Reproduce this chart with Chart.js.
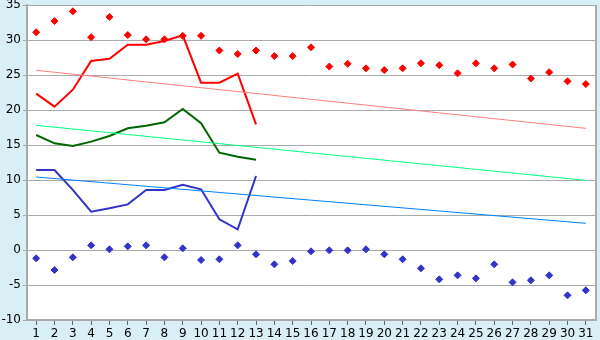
<!DOCTYPE html>
<html><head><meta charset="utf-8">
<script src="https://cdn.jsdelivr.net/npm/chart.js@4/dist/chart.umd.min.js"></script>
<style>html,body{margin:0;padding:0;background:#d9eff6;}#wrap{width:600px;height:340px;}</style>
</head><body><div id="wrap"><canvas id="c" width="600" height="340"></canvas></div>
<script>
const days = ["1","2","3","4","5","6","7","8","9","10","11","12","13","14","15","16","17","18","19","20","21","22","23","24","25","26","27","28","29","30","31"];
const highPoints = [31.1,32.7,34.1,30.4,33.3,30.7,30.1,30.1,30.6,30.6,28.5,28.0,28.5,27.7,27.7,28.95,26.2,26.6,25.95,25.7,25.95,26.67,26.4,25.24,26.67,25.95,26.5,24.5,25.4,24.1,23.7];
const lowPoints = [-1.19,-2.86,-1.05,0.67,0.1,0.52,0.67,-1.05,0.24,-1.43,-1.33,0.67,-0.62,-2.05,-1.57,-0.19,-0.05,-0.05,0.1,-0.62,-1.33,-2.62,-4.19,-3.62,-4.05,-2.05,-4.62,-4.33,-3.62,-6.48,-5.76];
const maxLine = [22.33,20.48,22.9,27.0,27.33,29.33,29.33,29.86,30.67,23.9,23.9,25.19,17.95];
const meanLine = [16.43,15.24,14.86,15.48,16.29,17.38,17.76,18.24,20.14,18.1,13.9,13.33,12.9];
const minLine = [11.43,11.43,8.6,5.48,5.95,6.52,8.57,8.57,9.33,8.67,4.38,2.95,10.57];
const maxTrend = [25.67,17.38];
const meanTrend = [17.81,9.95];
const minTrend = [10.43,3.81];
const yTicks = [-10,-5,0,5,10,15,20,25,30,35];

function trend(ends){ const a = days.map(()=>null); a[0]=ends[0]; a[a.length-1]=ends[1]; return a; }

const bgPlugin = {
  id:'bg',
  beforeDraw(chart){
    const {ctx, chartArea:a} = chart;
    ctx.save();
    ctx.fillStyle='#d9eff6'; ctx.fillRect(0,0,chart.width,chart.height);
    ctx.fillStyle='#ffffff'; ctx.fillRect(a.left,a.top,a.right-a.left,a.bottom-a.top);
    ctx.restore();
  },
  afterDraw(chart){
    const {ctx, chartArea:a} = chart;
    ctx.save();
    ctx.strokeStyle='#aaaaaa'; ctx.lineWidth=2;
    ctx.beginPath(); ctx.moveTo(a.right+1,a.top); ctx.lineTo(a.right+1,a.bottom+1); ctx.stroke();
    ctx.restore();
  }
};

const lineDs = (data,color,w)=>({type:'line',data,borderColor:color,backgroundColor:color,borderWidth:w,pointRadius:0,tension:0,fill:false,spanGaps:true});
const ptDs = (data,color)=>({type:'line',data,showLine:false,borderColor:color,backgroundColor:color,pointStyle:'rectRot',pointRadius:3.5,pointBorderWidth:1});

new Chart(document.getElementById('c'),{
  type:'line',
  data:{labels:days,datasets:[
    lineDs(trend(maxTrend),'#ff8080',1),
    lineDs(trend(meanTrend),'#00ff80',1),
    lineDs(trend(minTrend),'#0080ff',1),
    lineDs(maxLine,'#ff0000',2),
    lineDs(meanLine,'#006600',2),
    lineDs(minLine,'#3333cc',2),
    ptDs(highPoints,'#ff0000'),
    ptDs(lowPoints,'#3333cc')
  ]},
  options:{
    responsive:false, animation:false, devicePixelRatio:1,
    layout:{padding:{top:5,right:5,left:0,bottom:0}},
    plugins:{legend:{display:false},tooltip:{enabled:false}},
    scales:{
      x:{offset:true,
        grid:{display:true,drawOnChartArea:false,drawTicks:true,tickLength:5,color:'#666666'},
        border:{display:true,color:'#aaaaaa',width:2},
        ticks:{color:'#000',font:{family:'DejaVu Sans',size:12},maxRotation:0,autoSkip:false,padding:2},
        afterFit(s){s.height=20;}
      },
      y:{min:-10,max:35,
        afterBuildTicks(s){s.ticks=yTicks.map(v=>({value:v}));},
        grid:{color:'#aaaaaa',lineWidth:1,tickLength:4,drawTicks:true},
        border:{display:true,color:'#aaaaaa',width:2},
        ticks:{color:'#000',font:{family:'DejaVu Sans',size:12},padding:2},
        afterFit(s){s.width=27; s.paddingTop=0; s.paddingBottom=0;}
      }
    }
  },
  plugins:[bgPlugin]
});
</script>
</body></html>
